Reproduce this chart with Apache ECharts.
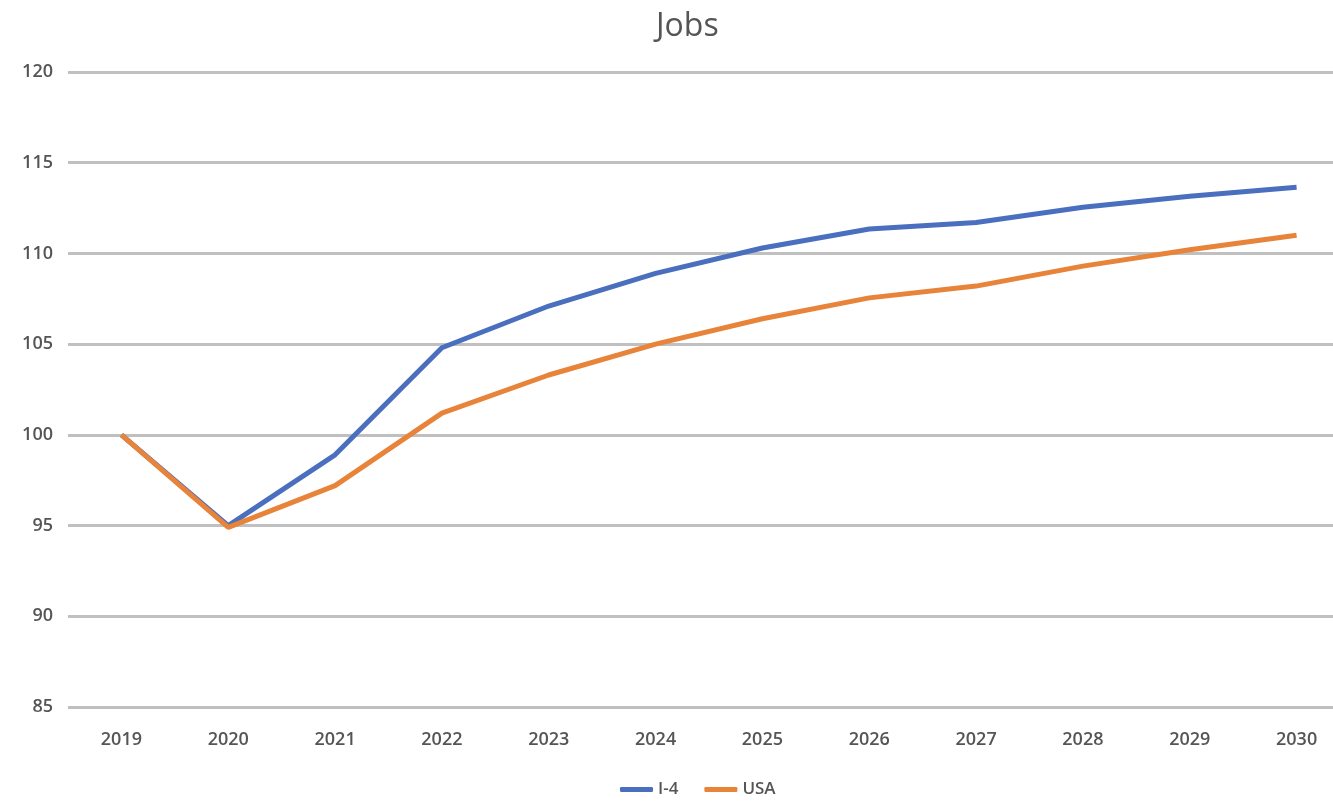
<!DOCTYPE html>
<html><head><meta charset="utf-8">
<script src="https://cdn.jsdelivr.net/npm/echarts@6/dist/echarts.min.js"></script>
<style>html,body{margin:0;padding:0;background:#fff;overflow:hidden}#c{width:1333px;height:802px}</style>
</head><body><div id="c"></div>
<script>
const years = ['2019','2020','2021','2022','2023','2024','2025','2026','2027','2028','2029','2030'];
const i4 = [100, 95.0, 98.9, 104.8, 107.1, 108.9, 110.3, 111.35, 111.7, 112.55, 113.15, 113.65];
const usa = [100, 94.9, 97.2, 101.2, 103.3, 105.0, 106.4, 107.55, 108.2, 109.3, 110.2, 111.0];
const chart = echarts.init(document.getElementById('c'));
const txt = '#555555';
chart.setOption({
  animation: false,
  title: {text: 'Jobs', left: 651, top: 6, textStyle: {fontFamily: 'Open Sans', fontSize: 32, fontWeight: 'normal', color: txt}},
  legend: {left: 615, bottom: -1, itemWidth: 33, itemHeight: 5, itemGap: 26, itemStyle: {borderWidth: 0}, icon: 'roundRect', textStyle: {fontFamily: 'Open Sans', fontSize: 17, fontWeight: 600, color: txt}},
  grid: {left: 68, width: 1282, top: 72, bottom: 95, containLabel: false, outerBoundsMode: 'none'},
  xAxis: {type: 'category', data: years, boundaryGap: true,
    axisLine: {show: false}, axisTick: {show: false},
    axisLabel: {color: txt, fontFamily: 'Open Sans', fontSize: 18, fontWeight: 600, margin: 24}},
  yAxis: {type: 'value', min: 85, max: 120, interval: 5,
    axisLine: {show: false}, axisTick: {show: false},
    splitLine: {lineStyle: {color: '#c0c0c0', width: 3}},
    axisLabel: {color: txt, fontFamily: 'Open Sans', fontSize: 18, fontWeight: 600, margin: 15}},
  series: [
    {name: 'I-4', type: 'line', data: i4, symbol: 'none', lineStyle: {color: '#4a6fbf', width: 5}, itemStyle: {color: '#4a6fbf'}},
    {name: 'USA', type: 'line', data: usa, symbol: 'none', lineStyle: {color: '#e8833a', width: 5}, itemStyle: {color: '#e8833a'}}
  ]
});
</script></body></html>
